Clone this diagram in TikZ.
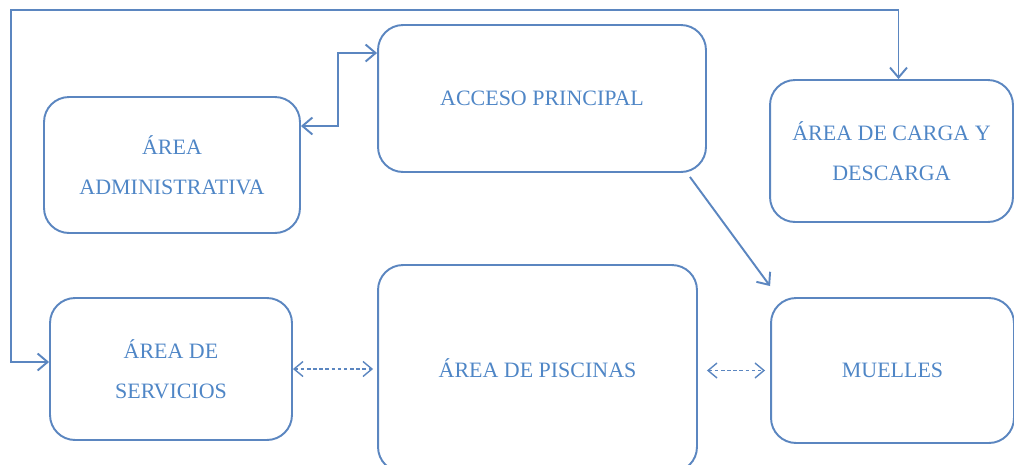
\documentclass[tikz,border=0pt]{standalone}
\usepackage{fontspec}
\setmainfont{Liberation Serif}
\usetikzlibrary{arrows.meta}
\definecolor{linea}{HTML}{5B86C0}
\definecolor{texto}{HTML}{4F86C6}

\tikzset{
  area/.style={draw=linea, line width=1.1pt, rounded corners=0.5cm, text=texto, align=center,
    font=\fontsize{12.5}{23}\selectfont, inner sep=0pt},
  flecha/.style={draw=linea, line width=1.1pt, >={Straight Barb[length=2mm,width=3.4mm]}},
  enlace/.style={draw=linea, line width=0.8pt, dash pattern=on 2pt off 1.5pt, >={Straight Barb[length=1.8mm,width=3mm]}}
}

\begin{document}
\begin{tikzpicture}[x=0.02cm, y=-0.02cm]
			\useasboundingbox (0,0) rectangle (1014,464);
			% cajas
			\node[area, minimum width=5.12cm, minimum height=2.72cm] (adm) at (172,165) {ÁREA\\ADMINISTRATIVA};
			\node[area, minimum width=6.56cm, minimum height=2.94cm] (acc) at (542,98.5) {ACCESO PRINCIPAL};
			\node[area, minimum width=4.86cm, minimum height=2.84cm] (car) at (891.5,151) {ÁREA DE CARGA Y\\DESCARGA};
			\node[area, minimum width=4.84cm, minimum height=2.84cm] (ser) at (171,369) {ÁREA DE\\SERVICIOS};
			\node[area, minimum width=6.38cm, minimum height=4.14cm] (pis) at (537.5,368.5) {ÁREA DE PISCINAS};
			\node[area, minimum width=4.86cm, minimum height=2.9cm] (mue) at (892.5,370.5) {MUELLES};
			% conectores
			\coordinate (lazo) at (11,10);
			\draw[flecha, <->] ([yshift=0.78cm]adm.east) -- ++(0.74cm,0) |- ([yshift=0.91cm]acc.west);
			\draw[flecha, <->] ([yshift=0.14cm]ser.west) -| (lazo) -| ([xshift=0.14cm]car.north);
			\draw[flecha, ->] ([xshift=-0.34cm,yshift=-0.08cm]acc.south east) -- ([yshift=0.22cm]mue.north west);
			\draw[enlace, <->] (ser.east) -- ([xshift=-0.08cm]ser.east -| pis.west);
			\draw[enlace, <->] ([xshift=0.18cm]pis.east |- mue.west) -- ([xshift=-0.1cm]mue.west);
		\end{tikzpicture}
\end{document}
